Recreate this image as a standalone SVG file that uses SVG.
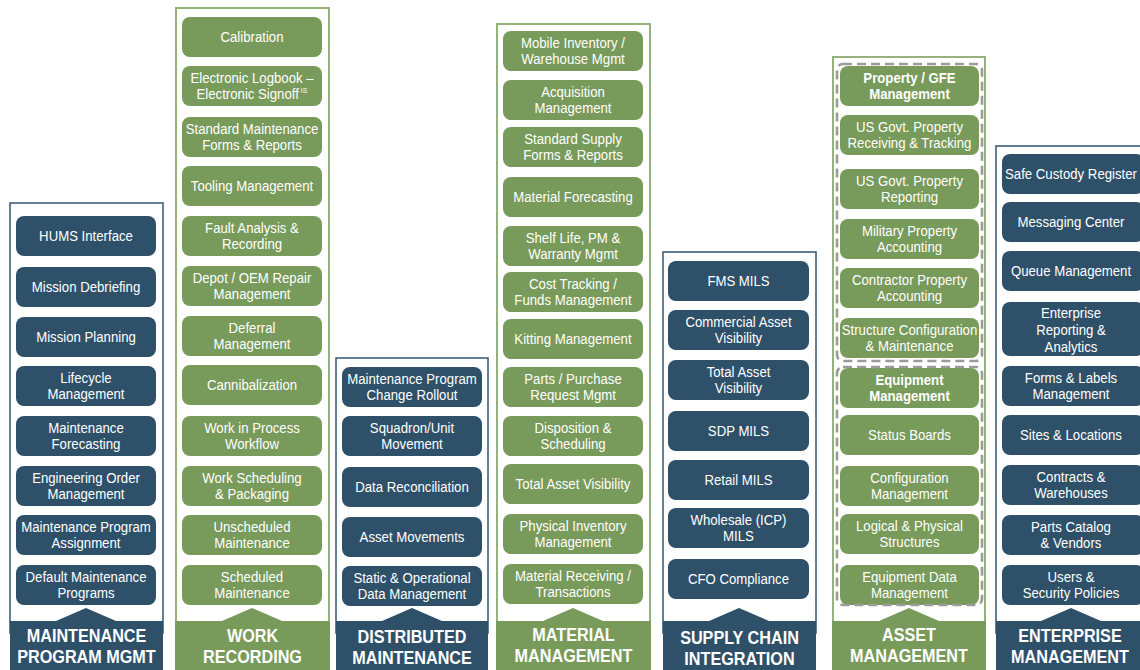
<svg xmlns="http://www.w3.org/2000/svg" width="1140" height="670" viewBox="0 0 1140 670">
<style>
.bb{fill:#2e5069}
.gb{fill:#789a5a}
.bf{fill:#fff;stroke:#3e6179;stroke-width:1.6}
.gf{fill:#fff;stroke:#8aaa6c;stroke-width:1.8}
.dash{fill:none;stroke:#9b9b9b;stroke-width:2.6;stroke-dasharray:9 5}
.bt{font-family:"Liberation Sans",Arial,sans-serif;font-size:15px;fill:#fff;text-anchor:middle}
.b{font-weight:bold}
.ft{font-family:"Liberation Sans",Arial,sans-serif;font-size:18px;font-weight:bold;fill:#fff;text-anchor:middle}
.sup{font-size:8px}
</style>
<rect width="1140" height="670" fill="#fff"/>

<!-- Column 1: Maintenance Program Mgmt -->
<g id="col-maintenance-program-mgmt">
<rect class="bf" x="10" y="203" width="153" height="430"/>
<path class="bb" d="M10 621H56L86 608L116 621H163V670H10Z"/>
<text class="ft" transform="translate(86.5 642) scale(.9 1)"><tspan x="0" y="0">MAINTENANCE</tspan><tspan x="0" y="21">PROGRAM MGMT</tspan></text>
</g>
<g id="n-hums"><rect class="bb" x="16" y="216" width="140" height="40" rx="8"/><text class="bt" transform="translate(86 241) scale(.88 1)">HUMS Interface</text></g>
<g id="n-mission-debriefing"><rect class="bb" x="16" y="267" width="140" height="40" rx="8"/><text class="bt" transform="translate(86 292) scale(.88 1)">Mission Debriefing</text></g>
<g id="n-mission-planning"><rect class="bb" x="16" y="317" width="140" height="40" rx="8"/><text class="bt" transform="translate(86 342) scale(.88 1)">Mission Planning</text></g>
<g id="n-lifecycle"><rect class="bb" x="16" y="366" width="140" height="40" rx="8"/><text class="bt" transform="translate(86 382.5) scale(.88 1)"><tspan x="0" y="0">Lifecycle</tspan><tspan x="0" y="17">Management</tspan></text></g>
<g id="n-maint-forecasting"><rect class="bb" x="16" y="416" width="140" height="40" rx="8"/><text class="bt" transform="translate(86 432.5) scale(.88 1)"><tspan x="0" y="0">Maintenance</tspan><tspan x="0" y="17">Forecasting</tspan></text></g>
<g id="n-engineering-order"><rect class="bb" x="16" y="466" width="140" height="40" rx="8"/><text class="bt" transform="translate(86 482.5) scale(.88 1)"><tspan x="0" y="0">Engineering Order</tspan><tspan x="0" y="17">Management</tspan></text></g>
<g id="n-maint-program-assignment"><rect class="bb" x="16" y="515" width="140" height="40" rx="8"/><text class="bt" transform="translate(86 531.5) scale(.88 1)"><tspan x="0" y="0">Maintenance Program</tspan><tspan x="0" y="17">Assignment</tspan></text></g>
<g id="n-default-maint-programs"><rect class="bb" x="16" y="565" width="140" height="40" rx="8"/><text class="bt" transform="translate(86 581.5) scale(.88 1)"><tspan x="0" y="0">Default Maintenance</tspan><tspan x="0" y="17">Programs</tspan></text></g>

<!-- Column 2: Work Recording -->
<g id="col-work-recording">
<rect class="gf" x="176" y="8" width="153" height="625"/>
<path class="gb" d="M175 621H222L252 608L282 621H330V670H175Z"/>
<text class="ft" transform="translate(252.5 642) scale(.9 1)"><tspan x="0" y="0">WORK</tspan><tspan x="0" y="21">RECORDING</tspan></text>
</g>
<g id="n-calibration"><rect class="gb" x="182" y="17" width="140" height="40" rx="8"/><text class="bt" transform="translate(252 42) scale(.88 1)">Calibration</text></g>
<g id="n-electronic-logbook"><rect class="gb" x="182" y="66" width="140" height="40" rx="8"/><text class="bt" transform="translate(252 82.5) scale(.88 1)"><tspan x="0" y="0">Electronic Logbook –</tspan><tspan x="0" y="17">Electronic Signoff<tspan class="sup" dy="-6"> IS</tspan></tspan></text></g>
<g id="n-std-maint-forms"><rect class="gb" x="182" y="117" width="140" height="40" rx="8"/><text class="bt" transform="translate(252 133.5) scale(.88 1)"><tspan x="0" y="0">Standard Maintenance</tspan><tspan x="0" y="17">Forms &amp; Reports</tspan></text></g>
<g id="n-tooling"><rect class="gb" x="182" y="166" width="140" height="40" rx="8"/><text class="bt" transform="translate(252 191) scale(.88 1)">Tooling Management</text></g>
<g id="n-fault-analysis"><rect class="gb" x="182" y="216" width="140" height="40" rx="8"/><text class="bt" transform="translate(252 232.5) scale(.88 1)"><tspan x="0" y="0">Fault Analysis &amp;</tspan><tspan x="0" y="17">Recording</tspan></text></g>
<g id="n-depot-oem"><rect class="gb" x="182" y="266" width="140" height="40" rx="8"/><text class="bt" transform="translate(252 282.5) scale(.88 1)"><tspan x="0" y="0">Depot / OEM Repair</tspan><tspan x="0" y="17">Management</tspan></text></g>
<g id="n-deferral"><rect class="gb" x="182" y="316" width="140" height="40" rx="8"/><text class="bt" transform="translate(252 332.5) scale(.88 1)"><tspan x="0" y="0">Deferral</tspan><tspan x="0" y="17">Management</tspan></text></g>
<g id="n-cannibalization"><rect class="gb" x="182" y="365" width="140" height="40" rx="8"/><text class="bt" transform="translate(252 390) scale(.88 1)">Cannibalization</text></g>
<g id="n-wip"><rect class="gb" x="182" y="416" width="140" height="40" rx="8"/><text class="bt" transform="translate(252 432.5) scale(.88 1)"><tspan x="0" y="0">Work in Process</tspan><tspan x="0" y="17">Workflow</tspan></text></g>
<g id="n-work-scheduling"><rect class="gb" x="182" y="466" width="140" height="40" rx="8"/><text class="bt" transform="translate(252 482.5) scale(.88 1)"><tspan x="0" y="0">Work Scheduling</tspan><tspan x="0" y="17">&amp; Packaging</tspan></text></g>
<g id="n-unscheduled"><rect class="gb" x="182" y="515" width="140" height="40" rx="8"/><text class="bt" transform="translate(252 531.5) scale(.88 1)"><tspan x="0" y="0">Unscheduled</tspan><tspan x="0" y="17">Maintenance</tspan></text></g>
<g id="n-scheduled"><rect class="gb" x="182" y="565" width="140" height="40" rx="8"/><text class="bt" transform="translate(252 581.5) scale(.88 1)"><tspan x="0" y="0">Scheduled</tspan><tspan x="0" y="17">Maintenance</tspan></text></g>

<!-- Column 3: Distributed Maintenance -->
<g id="col-distributed-maintenance">
<rect class="bf" x="336" y="358" width="152" height="275"/>
<path class="bb" d="M336 621H382L412 608L442 621H488V670H336Z"/>
<text class="ft" transform="translate(412 643) scale(.9 1)"><tspan x="0" y="0">DISTRIBUTED</tspan><tspan x="0" y="21">MAINTENANCE</tspan></text>
</g>
<g id="n-mp-change-rollout"><rect class="bb" x="342" y="367" width="140" height="40" rx="8"/><text class="bt" transform="translate(412 383.5) scale(.88 1)"><tspan x="0" y="0">Maintenance Program</tspan><tspan x="0" y="17">Change Rollout</tspan></text></g>
<g id="n-squadron"><rect class="bb" x="342" y="416" width="140" height="40" rx="8"/><text class="bt" transform="translate(412 432.5) scale(.88 1)"><tspan x="0" y="0">Squadron/Unit</tspan><tspan x="0" y="17">Movement</tspan></text></g>
<g id="n-data-reconciliation"><rect class="bb" x="342" y="467" width="140" height="40" rx="8"/><text class="bt" transform="translate(412 492) scale(.88 1)">Data Reconciliation</text></g>
<g id="n-asset-movements"><rect class="bb" x="342" y="517" width="140" height="40" rx="8"/><text class="bt" transform="translate(412 542) scale(.88 1)">Asset Movements</text></g>
<g id="n-static-operational"><rect class="bb" x="342" y="566" width="140" height="40" rx="8"/><text class="bt" transform="translate(412 582.5) scale(.88 1)"><tspan x="0" y="0">Static &amp; Operational</tspan><tspan x="0" y="17">Data Management</tspan></text></g>

<!-- Column 4: Material Management -->
<g id="col-material-management">
<rect class="gf" x="497" y="24" width="153" height="609"/>
<path class="gb" d="M496 621H543L573 608L603 621H651V670H496Z"/>
<text class="ft" transform="translate(573.5 641) scale(.9 1)"><tspan x="0" y="0">MATERIAL</tspan><tspan x="0" y="21">MANAGEMENT</tspan></text>
</g>
<g id="n-mobile-inventory"><rect class="gb" x="503" y="31" width="140" height="40" rx="8"/><text class="bt" transform="translate(573 47.5) scale(.88 1)"><tspan x="0" y="0">Mobile Inventory /</tspan><tspan x="0" y="17">Warehouse Mgmt</tspan></text></g>
<g id="n-acquisition"><rect class="gb" x="503" y="80" width="140" height="40" rx="8"/><text class="bt" transform="translate(573 96.5) scale(.88 1)"><tspan x="0" y="0">Acquisition</tspan><tspan x="0" y="17">Management</tspan></text></g>
<g id="n-std-supply-forms"><rect class="gb" x="503" y="127" width="140" height="40" rx="8"/><text class="bt" transform="translate(573 143.5) scale(.88 1)"><tspan x="0" y="0">Standard Supply</tspan><tspan x="0" y="17">Forms &amp; Reports</tspan></text></g>
<g id="n-material-forecasting"><rect class="gb" x="503" y="177" width="140" height="40" rx="8"/><text class="bt" transform="translate(573 202) scale(.88 1)">Material Forecasting</text></g>
<g id="n-shelf-life"><rect class="gb" x="503" y="226" width="140" height="40" rx="8"/><text class="bt" transform="translate(573 242.5) scale(.88 1)"><tspan x="0" y="0">Shelf Life, PM &amp;</tspan><tspan x="0" y="17">Warranty Mgmt</tspan></text></g>
<g id="n-cost-tracking"><rect class="gb" x="503" y="272" width="140" height="40" rx="8"/><text class="bt" transform="translate(573 288.5) scale(.88 1)"><tspan x="0" y="0">Cost Tracking /</tspan><tspan x="0" y="17">Funds Management</tspan></text></g>
<g id="n-kitting"><rect class="gb" x="503" y="319" width="140" height="40" rx="8"/><text class="bt" transform="translate(573 344) scale(.88 1)">Kitting Management</text></g>
<g id="n-parts-purchase"><rect class="gb" x="503" y="367" width="140" height="40" rx="8"/><text class="bt" transform="translate(573 383.5) scale(.88 1)"><tspan x="0" y="0">Parts / Purchase</tspan><tspan x="0" y="17">Request Mgmt</tspan></text></g>
<g id="n-disposition"><rect class="gb" x="503" y="416" width="140" height="40" rx="8"/><text class="bt" transform="translate(573 432.5) scale(.88 1)"><tspan x="0" y="0">Disposition &amp;</tspan><tspan x="0" y="17">Scheduling</tspan></text></g>
<g id="n-total-asset-visibility-mm"><rect class="gb" x="503" y="464" width="140" height="40" rx="8"/><text class="bt" transform="translate(573 489) scale(.88 1)">Total Asset Visibility</text></g>
<g id="n-physical-inventory"><rect class="gb" x="503" y="514" width="140" height="40" rx="8"/><text class="bt" transform="translate(573 530.5) scale(.88 1)"><tspan x="0" y="0">Physical Inventory</tspan><tspan x="0" y="17">Management</tspan></text></g>
<g id="n-material-receiving"><rect class="gb" x="503" y="564" width="140" height="40" rx="8"/><text class="bt" transform="translate(573 580.5) scale(.88 1)"><tspan x="0" y="0">Material  Receiving /</tspan><tspan x="0" y="17">Transactions</tspan></text></g>

<!-- Column 5: Supply Chain Integration -->
<g id="col-supply-chain-integration">
<rect class="bf" x="663" y="252" width="153" height="381"/>
<path class="bb" d="M663 621H709L739 608L769 621H816V670H663Z"/>
<text class="ft" transform="translate(739.5 644) scale(.9 1)"><tspan x="0" y="0">SUPPLY CHAIN</tspan><tspan x="0" y="21">INTEGRATION</tspan></text>
</g>
<g id="n-fms-mils"><rect class="bb" x="668" y="261" width="141" height="40" rx="8"/><text class="bt" transform="translate(738.5 286) scale(.88 1)">FMS MILS</text></g>
<g id="n-commercial-asset"><rect class="bb" x="668" y="310" width="141" height="40" rx="8"/><text class="bt" transform="translate(738.5 326.5) scale(.88 1)"><tspan x="0" y="0">Commercial Asset</tspan><tspan x="0" y="17">Visibility</tspan></text></g>
<g id="n-total-asset-visibility-sc"><rect class="bb" x="668" y="360" width="141" height="40" rx="8"/><text class="bt" transform="translate(738.5 376.5) scale(.88 1)"><tspan x="0" y="0">Total Asset</tspan><tspan x="0" y="17">Visibility</tspan></text></g>
<g id="n-sdp-mils"><rect class="bb" x="668" y="411" width="141" height="40" rx="8"/><text class="bt" transform="translate(738.5 436) scale(.88 1)">SDP MILS</text></g>
<g id="n-retail-mils"><rect class="bb" x="668" y="460" width="141" height="40" rx="8"/><text class="bt" transform="translate(738.5 485) scale(.88 1)">Retail MILS</text></g>
<g id="n-wholesale-mils"><rect class="bb" x="668" y="508" width="141" height="40" rx="8"/><text class="bt" transform="translate(738.5 524.5) scale(.88 1)"><tspan x="0" y="0">Wholesale (ICP)</tspan><tspan x="0" y="17">MILS</tspan></text></g>
<g id="n-cfo-compliance"><rect class="bb" x="668" y="559" width="141" height="40" rx="8"/><text class="bt" transform="translate(738.5 584) scale(.88 1)">CFO Compliance</text></g>

<!-- Column 6: Asset Management -->
<g id="col-asset-management">
<rect class="gf" x="833" y="57" width="152" height="576"/>
<path class="gb" d="M832 621H879L909 608L939 621H986V670H832Z"/>
<text class="ft" transform="translate(909 641) scale(.9 1)"><tspan x="0" y="0">ASSET</tspan><tspan x="0" y="21">MANAGEMENT</tspan></text>
</g>
<g id="n-property-gfe"><rect class="gb" x="840" y="66" width="139" height="40" rx="8"/><text class="bt b" transform="translate(909.5 82.5) scale(.88 1)"><tspan x="0" y="0">Property / GFE</tspan><tspan x="0" y="17">Management</tspan></text></g>
<g id="n-usgov-receiving"><rect class="gb" x="840" y="115" width="139" height="40" rx="8"/><text class="bt" transform="translate(909.5 131.5) scale(.88 1)"><tspan x="0" y="0">US Govt. Property</tspan><tspan x="0" y="17">Receiving &amp; Tracking</tspan></text></g>
<g id="n-usgov-reporting"><rect class="gb" x="840" y="169" width="139" height="40" rx="8"/><text class="bt" transform="translate(909.5 185.5) scale(.88 1)"><tspan x="0" y="0">US Govt. Property</tspan><tspan x="0" y="17">Reporting</tspan></text></g>
<g id="n-military-property"><rect class="gb" x="840" y="219" width="139" height="40" rx="8"/><text class="bt" transform="translate(909.5 235.5) scale(.88 1)"><tspan x="0" y="0">Military Property</tspan><tspan x="0" y="17">Accounting</tspan></text></g>
<g id="n-contractor-property"><rect class="gb" x="840" y="268" width="139" height="40" rx="8"/><text class="bt" transform="translate(909.5 284.5) scale(.88 1)"><tspan x="0" y="0">Contractor Property</tspan><tspan x="0" y="17">Accounting</tspan></text></g>
<g id="n-structure-config"><rect class="gb" x="840" y="318" width="139" height="40" rx="8"/><text class="bt" transform="translate(909.5 334.5) scale(.88 1)"><tspan x="0" y="0">Structure Configuration</tspan><tspan x="0" y="17">&amp; Maintenance</tspan></text></g>
<g id="n-equipment-mgmt"><rect class="gb" x="840" y="368" width="139" height="40" rx="8"/><text class="bt b" transform="translate(909.5 384.5) scale(.88 1)"><tspan x="0" y="0">Equipment</tspan><tspan x="0" y="17">Management</tspan></text></g>
<g id="n-status-boards"><rect class="gb" x="840" y="415" width="139" height="40" rx="8"/><text class="bt" transform="translate(909.5 440) scale(.88 1)">Status Boards</text></g>
<g id="n-configuration-mgmt"><rect class="gb" x="840" y="466" width="139" height="40" rx="8"/><text class="bt" transform="translate(909.5 482.5) scale(.88 1)"><tspan x="0" y="0">Configuration</tspan><tspan x="0" y="17">Management</tspan></text></g>
<g id="n-logical-physical"><rect class="gb" x="840" y="514" width="139" height="40" rx="8"/><text class="bt" transform="translate(909.5 530.5) scale(.88 1)"><tspan x="0" y="0">Logical &amp; Physical</tspan><tspan x="0" y="17">Structures</tspan></text></g>
<g id="n-equipment-data"><rect class="gb" x="840" y="565" width="139" height="40" rx="8"/><text class="bt" transform="translate(909.5 581.5) scale(.88 1)"><tspan x="0" y="0">Equipment Data</tspan><tspan x="0" y="17">Management</tspan></text></g>
<g id="groups-asset-management">
<rect class="dash" x="837" y="64" width="145" height="297" rx="6"/>
<rect class="dash" x="837" y="367" width="145" height="238" rx="6"/>
</g>

<!-- Column 7: Enterprise Management -->
<g id="col-enterprise-management">
<rect class="bf" x="996" y="146" width="150" height="487"/>
<path class="bb" d="M996 621H1041L1071 608L1101 621H1146V670H996Z"/>
<text class="ft" transform="translate(1070 642) scale(.9 1)"><tspan x="0" y="0">ENTERPRISE</tspan><tspan x="0" y="21">MANAGEMENT</tspan></text>
</g>
<g id="n-safe-custody"><rect class="bb" x="1002" y="154" width="142" height="40" rx="8"/><text class="bt" transform="translate(1071 179) scale(.88 1)">Safe Custody Register</text></g>
<g id="n-messaging-center"><rect class="bb" x="1002" y="202" width="142" height="40" rx="8"/><text class="bt" transform="translate(1071 227) scale(.88 1)">Messaging Center</text></g>
<g id="n-queue-mgmt"><rect class="bb" x="1002" y="251" width="142" height="40" rx="8"/><text class="bt" transform="translate(1071 276) scale(.88 1)">Queue Management</text></g>
<g id="n-enterprise-reporting"><rect class="bb" x="1002" y="302" width="142" height="54" rx="8"/><text class="bt" transform="translate(1071 317.5) scale(.88 1)"><tspan x="0" y="0">Enterprise</tspan><tspan x="0" y="17.5">Reporting &amp;</tspan><tspan x="0" y="35">Analytics</tspan></text></g>
<g id="n-forms-labels"><rect class="bb" x="1002" y="366" width="142" height="40" rx="8"/><text class="bt" transform="translate(1071 382.5) scale(.88 1)"><tspan x="0" y="0">Forms &amp; Labels</tspan><tspan x="0" y="17">Management</tspan></text></g>
<g id="n-sites-locations"><rect class="bb" x="1002" y="415" width="142" height="40" rx="8"/><text class="bt" transform="translate(1071 440) scale(.88 1)">Sites &amp; Locations</text></g>
<g id="n-contracts-warehouses"><rect class="bb" x="1002" y="465" width="142" height="40" rx="8"/><text class="bt" transform="translate(1071 481.5) scale(.88 1)"><tspan x="0" y="0">Contracts &amp;</tspan><tspan x="0" y="17">Warehouses</tspan></text></g>
<g id="n-parts-catalog"><rect class="bb" x="1002" y="515" width="142" height="40" rx="8"/><text class="bt" transform="translate(1071 531.5) scale(.88 1)"><tspan x="0" y="0">Parts Catalog</tspan><tspan x="0" y="17">&amp; Vendors</tspan></text></g>
<g id="n-users-security"><rect class="bb" x="1002" y="565" width="142" height="40" rx="8"/><text class="bt" transform="translate(1071 581.5) scale(.88 1)"><tspan x="0" y="0">Users &amp;</tspan><tspan x="0" y="17">Security Policies</tspan></text></g>

<g id="connectors"/>
</svg>
